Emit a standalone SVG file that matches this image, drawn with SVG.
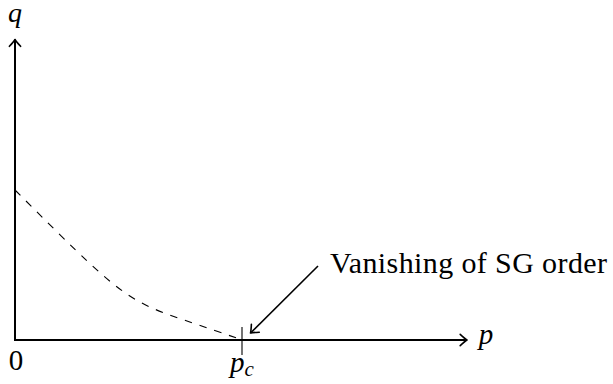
<svg xmlns="http://www.w3.org/2000/svg" width="613" height="384" viewBox="0 0 613 384">
<style>
.axis{stroke:#000;stroke-width:2;fill:none}
.thin{stroke:#000;stroke-width:1.1;fill:none}
.dash{stroke:#000;stroke-width:1.1;fill:none;stroke-dasharray:7.5 8}
.ann{stroke:#000;stroke-width:1.6;fill:none}
</style>
<defs>
<marker id="tip" markerUnits="userSpaceOnUse" orient="auto" refX="0" refY="0" markerWidth="20" markerHeight="20" overflow="visible">
<path d="M-6.8,-5.6 Q-2,-1.2 0,0 Q-2,1.2 -6.8,5.6" fill="none" stroke="#000" stroke-width="1.6" stroke-linecap="round" stroke-linejoin="round"/>
</marker>
</defs>
<rect width="613" height="384" fill="#fff"/>
<g id="connectors">
<path id="q-axis" class="axis" d="M15,341 L15,39.5" marker-end="url(#tip)"/>
<path id="p-axis" class="axis" d="M14,340 L467,340" marker-end="url(#tip)"/>
<path id="tick" class="thin" d="M242,327 L242,355"/>
<path id="curve" class="dash" d="M15,190 C145,320 122,296.8 242,340"/>
<path id="pointer" class="ann" d="M318,266 L250.5,333" marker-end="url(#tip)"/>
</g>
<g id="labels" font-family="Liberation Serif, Times New Roman, DejaVu Serif, serif" fill="#000">
<g id="q-label"><text x="15" y="22" font-size="28" font-style="italic" text-anchor="middle">q</text></g>
<g id="p-label"><text x="486" y="344" font-size="29" font-style="italic" text-anchor="middle">p</text></g>
<g id="zero-label"><text x="16" y="370" font-size="29" text-anchor="middle">0</text></g>
<g id="pc-label"><text x="230" y="372" font-size="29" font-style="italic">p<tspan font-size="21" dy="4">c</tspan></text></g>
<g id="sg-label"><text x="330" y="273" font-size="30" textLength="277" lengthAdjust="spacing">Vanishing of SG order</text></g>
</g>
</svg>
